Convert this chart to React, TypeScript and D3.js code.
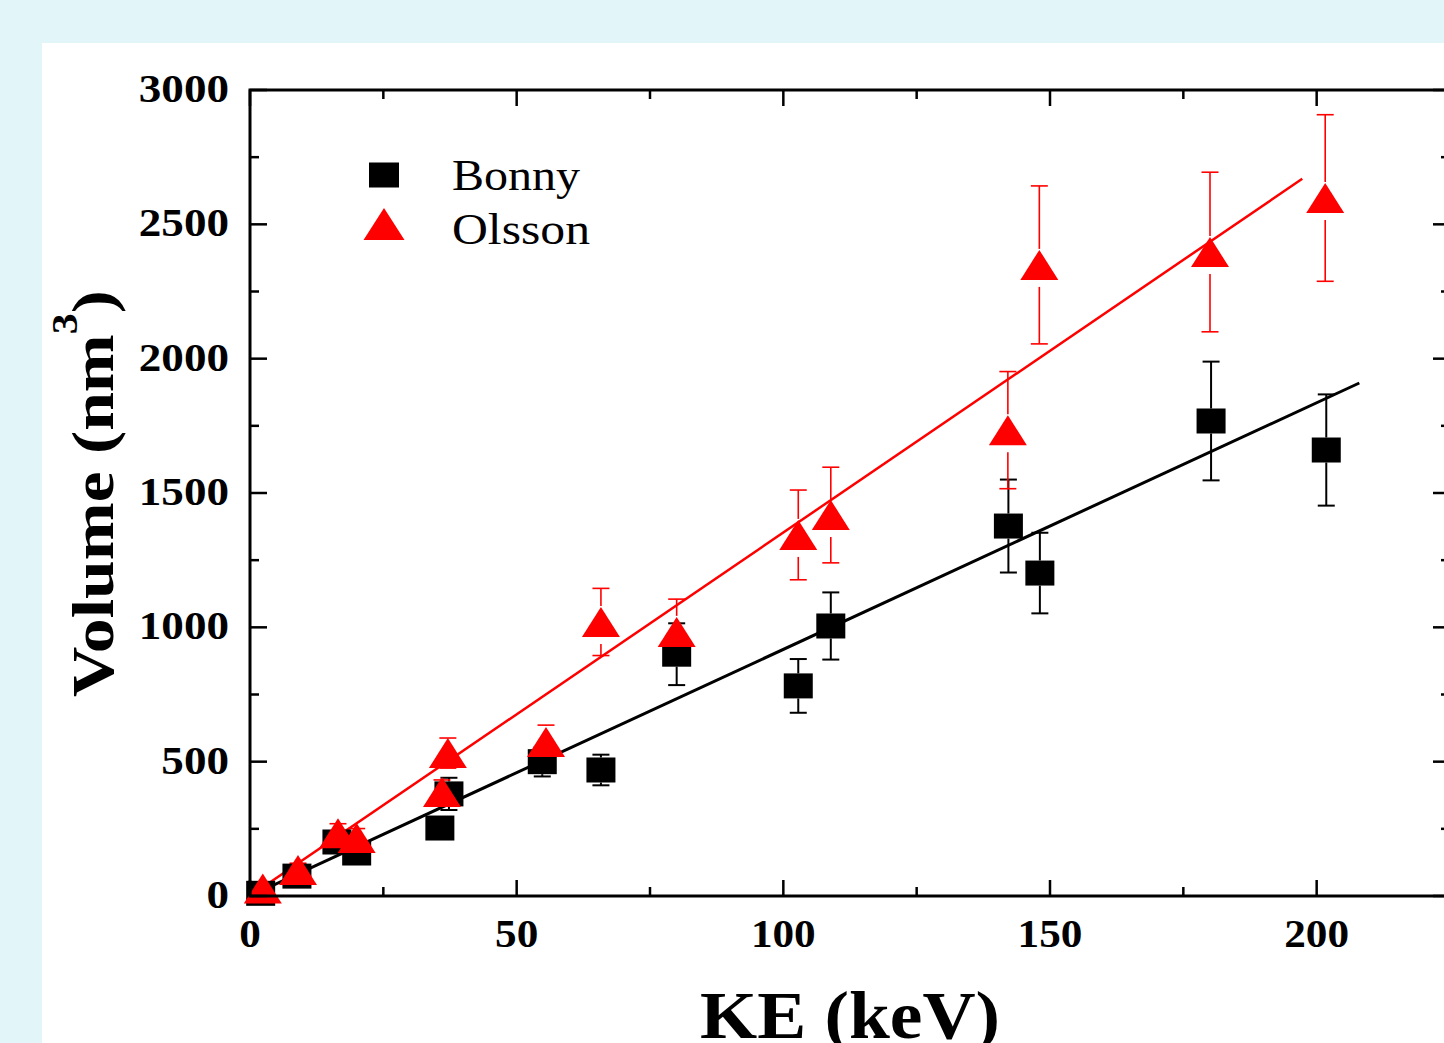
import React from "react";
import * as d3 from "d3";

const bonnyKE = [2, 8.8, 16.3, 20, 35.6, 37.3, 54.8, 65.8, 80, 102.8, 108.9, 142.2, 148.1, 180.2, 201.8];
const bonnyVol = [10, 74, 201, 160, 253, 380, 500, 469, 900, 782, 1005, 1377, 1202, 1768, 1660];
const bonnyErr = [15, 20, 30, 30, 35, 60, 55, 57, 115, 100, 125, 173, 150, 221, 207];

const olssonKE = [2.4, 9, 16.5, 20, 36, 37.1, 55.5, 65.8, 80, 102.8, 108.9, 142.1, 148, 180, 201.6];
const olssonVol = [28, 97, 234, 216, 387, 532, 573, 1020, 983, 1344, 1418, 1734, 2349, 2397, 2598];
const olssonErr = [15, 25, 35, 35, 45, 56, 63, 125, 122, 167, 178, 218, 294, 297, 310];

// linear fits through origin: [slope, xStart, xEnd]
const bonnyFit = [9.18, 0, 208];
const olssonFit = [13.53, 0, 197.3];

const xTicks = [0, 50, 100, 150, 200];
const xMinor = [25, 75, 125, 175, 225];
const yTicks = [0, 500, 1000, 1500, 2000, 2500, 3000];
const yMinor = [250, 750, 1250, 1750, 2250, 2750];

const legendLabels = ["Bonny", "Olsson"];

const W = 1444;
const H = 1043;
const SERIF = "'Liberation Serif', 'Times New Roman', serif";

export default function App() {
  const x = d3.scaleLinear().domain([0, 225]).range([250, 1450]);
  const y = d3.scaleLinear().domain([0, 3000]).range([896, 90]);
  const line = d3.line<[number, number]>().x((d) => x(d[0])).y((d) => y(d[1]));

  const sqW = 29, sqH = 25;
  const triW = 38, triH = 30;
  const tri = (cx: number, cy: number, w = triW, h = triH) =>
    `M${cx},${cy - h / 2}L${cx + w / 2},${cy + h / 2}L${cx - w / 2},${cy + h / 2}Z`;

  const errBars = (kes: number[], vals: number[], errs: number[], color: string, sw: number, gapTop: number, gapBot: number) =>
    kes.map((k, i) => {
      const cx = x(k);
      const cy = y(vals[i]);
      const yt = y(vals[i] + errs[i]);
      const yb = y(vals[i] - errs[i]);
      return (
        <g key={i} stroke={color} strokeWidth={sw} fill="none">
          {yt < cy - gapTop && <line x1={cx} x2={cx} y1={yt} y2={cy - gapTop} />}
          {yb > cy + gapBot && <line x1={cx} x2={cx} y1={cy + gapBot} y2={yb} />}
          <line x1={cx - 8.5} x2={cx + 8.5} y1={yt} y2={yt} />
          <line x1={cx - 8.5} x2={cx + 8.5} y1={yb} y2={yb} />
        </g>
      );
    });

  return (
    <svg width={W} height={H} style={{ position: "absolute", left: 0, top: 0 }} xmlns="http://www.w3.org/2000/svg">
      <rect x={0} y={0} width={W} height={H} fill="#e2f5f9" />
      <rect x={42} y={43} width={W - 42} height={H - 43} fill="#ffffff" />

      {/* fit lines */}
      <path d={line([[bonnyFit[1], bonnyFit[0] * bonnyFit[1]], [bonnyFit[2], bonnyFit[0] * bonnyFit[2]]]) || ""} stroke="#000" strokeWidth={3} fill="none" />
      <path d={line([[olssonFit[1], olssonFit[0] * olssonFit[1]], [olssonFit[2], olssonFit[0] * olssonFit[2]]]) || ""} stroke="#ff0000" strokeWidth={2.5} fill="none" />

      {/* error bars */}
      {errBars(bonnyKE, bonnyVol, bonnyErr, "#000", 2, sqH / 2, sqH / 2)}
      {errBars(olssonKE, olssonVol, olssonErr, "#ff0000", 1.6, 16, 22)}

      {/* markers */}
      {bonnyKE.map((k, i) => (
        <rect key={"b" + i} x={x(k) - sqW / 2} y={y(bonnyVol[i]) - sqH / 2} width={sqW} height={sqH} fill="#000" />
      ))}
      {olssonKE.map((k, i) => (
        <path key={"o" + i} d={tri(x(k), y(olssonVol[i]))} fill="#ff0000" />
      ))}

      {/* axes frame */}
      <rect x={x(0)} y={y(3000)} width={x(225) - x(0)} height={y(0) - y(3000)} fill="none" stroke="#000" strokeWidth={3} />

      {/* x ticks bottom and top */}
      {xTicks.map((t) => (
        <g key={"xt" + t} stroke="#000" strokeWidth={2.5}>
          <line x1={x(t)} x2={x(t)} y1={y(0)} y2={y(0) - 16} />
          <line x1={x(t)} x2={x(t)} y1={y(3000)} y2={y(3000) + 16} />
        </g>
      ))}
      {xMinor.map((t) => (
        <g key={"xm" + t} stroke="#000" strokeWidth={2.5}>
          <line x1={x(t)} x2={x(t)} y1={y(0)} y2={y(0) - 9} />
          <line x1={x(t)} x2={x(t)} y1={y(3000)} y2={y(3000) + 9} />
        </g>
      ))}
      {yTicks.map((t) => (
        <g key={"yt" + t} stroke="#000" strokeWidth={2.5}>
          <line x1={x(0)} x2={x(0) + 17} y1={y(t)} y2={y(t)} />
          <line x1={x(225)} x2={x(225) - 17} y1={y(t)} y2={y(t)} />
        </g>
      ))}
      {yMinor.map((t) => (
        <g key={"ym" + t} stroke="#000" strokeWidth={2.5}>
          <line x1={x(0)} x2={x(0) + 9} y1={y(t)} y2={y(t)} />
          <line x1={x(225)} x2={x(225) - 9} y1={y(t)} y2={y(t)} />
        </g>
      ))}

      {/* tick labels */}
      {xTicks.map((t) => (
        <text key={"xl" + t} x={x(t)} y={947} textAnchor="middle" fontFamily={SERIF} fontWeight="bold" fontSize={40}
          textLength={String(t).length * 0.5 * 40 * 1.08} lengthAdjust="spacingAndGlyphs">{t}</text>
      ))}
      {yTicks.map((t) => (
        <text key={"yl" + t} x={229} y={y(t) + 12} textAnchor="end" fontFamily={SERIF} fontWeight="bold" fontSize={41}
          textLength={String(t).length * 0.5 * 41 * 1.1} lengthAdjust="spacingAndGlyphs">{t}</text>
      ))}

      {/* axis titles */}
      <text x={850} y={1038} textAnchor="middle" fontFamily={SERIF} fontWeight="bold" fontSize={67}
        textLength={300} lengthAdjust="spacingAndGlyphs">KE (keV)</text>
      <text transform="translate(113,697) rotate(-90) scale(1.16,1)" fontFamily={SERIF} fontWeight="bold" fontSize={60}>
        Volume (nm<tspan dy={-36} fontSize={36}>3</tspan><tspan dy={36}>)</tspan>
      </text>

      {/* legend */}
      <rect x={384 - 15} y={175 - 12.5} width={30} height={25} fill="#000" />
      <path d={tri(384, 224, 41, 32)} fill="#ff0000" />
      <text x={452} y={190} fontFamily={SERIF} fontSize={44} textLength={128} lengthAdjust="spacingAndGlyphs">{legendLabels[0]}</text>
      <text x={452} y={244} fontFamily={SERIF} fontSize={44} textLength={138} lengthAdjust="spacingAndGlyphs">{legendLabels[1]}</text>
    </svg>
  );
}
